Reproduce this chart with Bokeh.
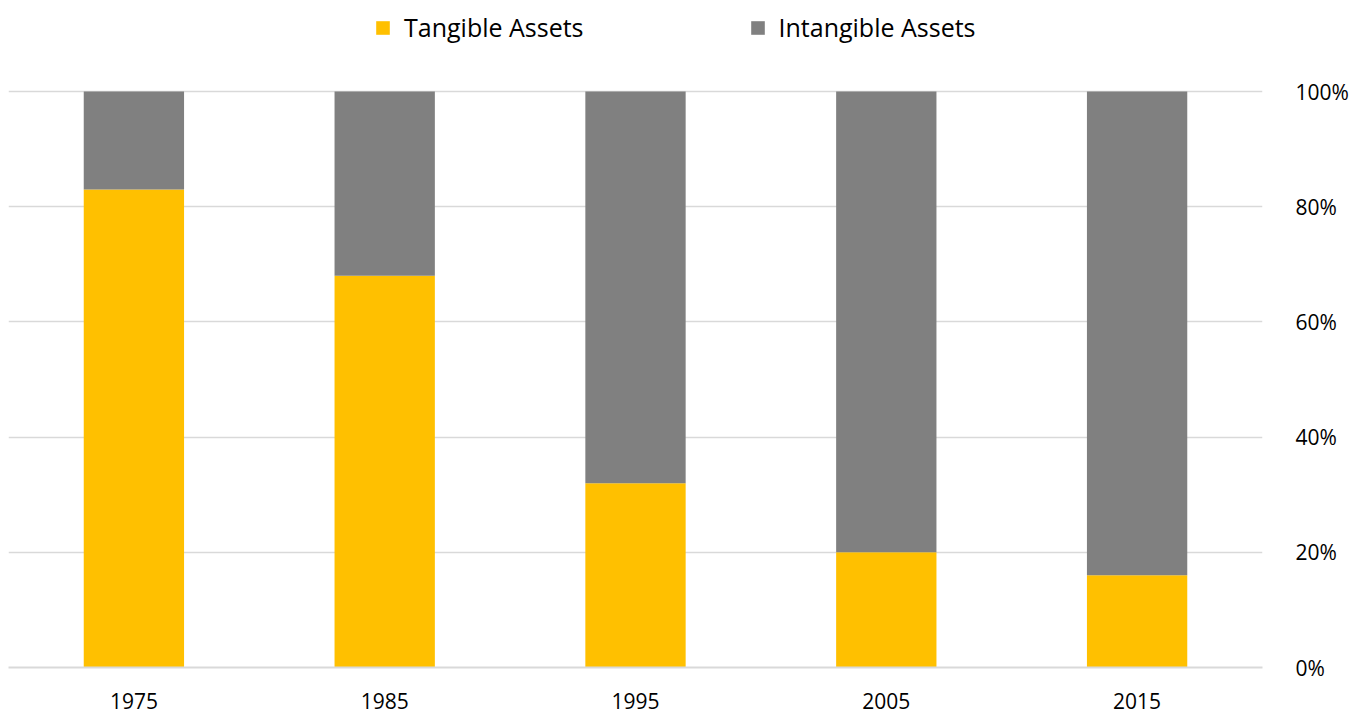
from bokeh.plotting import figure
from bokeh.models import FactorRange, Range1d, FixedTicker, NumeralTickFormatter, Legend, LegendItem, ColumnDataSource
from bokeh.embed import file_html
from bokeh.resources import INLINE

years = ["1975", "1985", "1995", "2005", "2015"]
tangible = [0.83, 0.68, 0.32, 0.20, 0.16]
intangible = [0.17, 0.32, 0.68, 0.80, 0.84]
series_names = ["Tangible Assets", "Intangible Assets"]
colors = ["#FFC000", "#808080"]
y_ticks = [0, 0.2, 0.4, 0.6, 0.8, 1.0]

FONT = "Open Sans"
FS = "21px"
LFS = "25px"

src = ColumnDataSource(dict(year=years, tangible=tangible, intangible=intangible))

# frame: 1254 x 667 px; 0..1 spans 576 px, space above 1.0 holds the legend
p = figure(x_range=FactorRange(*years, range_padding=0), y_range=Range1d(0, 667 / 576),
           width=1356, height=713, y_axis_location="right",
           output_backend="svg", toolbar_location=None,
           min_border_left=8, min_border_top=0, min_border_bottom=46, min_border_right=94)

rs = p.vbar_stack(["tangible", "intangible"], x="year", width=0.4, source=src,
                  color=colors, line_color=None)

legend = Legend(items=[LegendItem(label=series_names[0], renderers=[rs[0]]),
                       LegendItem(label=series_names[1], renderers=[rs[1]])],
                orientation="horizontal", location=(366, 623),
                label_text_font=FONT, label_text_font_size=LFS, label_text_color="#000000",
                glyph_width=17, glyph_height=17, label_standoff=13, spacing=165,
                border_line_color=None, background_fill_alpha=0, padding=0, margin=0)
p.add_layout(legend, "center")

p.outline_line_color = None
p.xgrid.grid_line_color = None
p.ygrid.grid_line_color = "#d9d9d9"
p.ygrid.grid_line_width = 1.5

ya = p.yaxis[0]
ya.ticker = FixedTicker(ticks=y_ticks)
ya.formatter = NumeralTickFormatter(format="0%")
ya.axis_line_color = None
ya.major_tick_line_color = None
ya.minor_tick_line_color = None
ya.major_label_standoff = 27
ya.major_label_text_font = FONT
ya.major_label_text_font_size = FS
ya.major_label_text_color = "#000000"

xa = p.xaxis[0]
xa.axis_line_color = "#d9d9d9"
xa.axis_line_width = 2
xa.major_tick_line_color = None
xa.minor_tick_line_color = None
xa.major_label_standoff = 19
xa.major_label_text_font = FONT
xa.major_label_text_font_size = FS
xa.major_label_text_color = "#000000"

open("out.html", "w").write(file_html(p, INLINE))
